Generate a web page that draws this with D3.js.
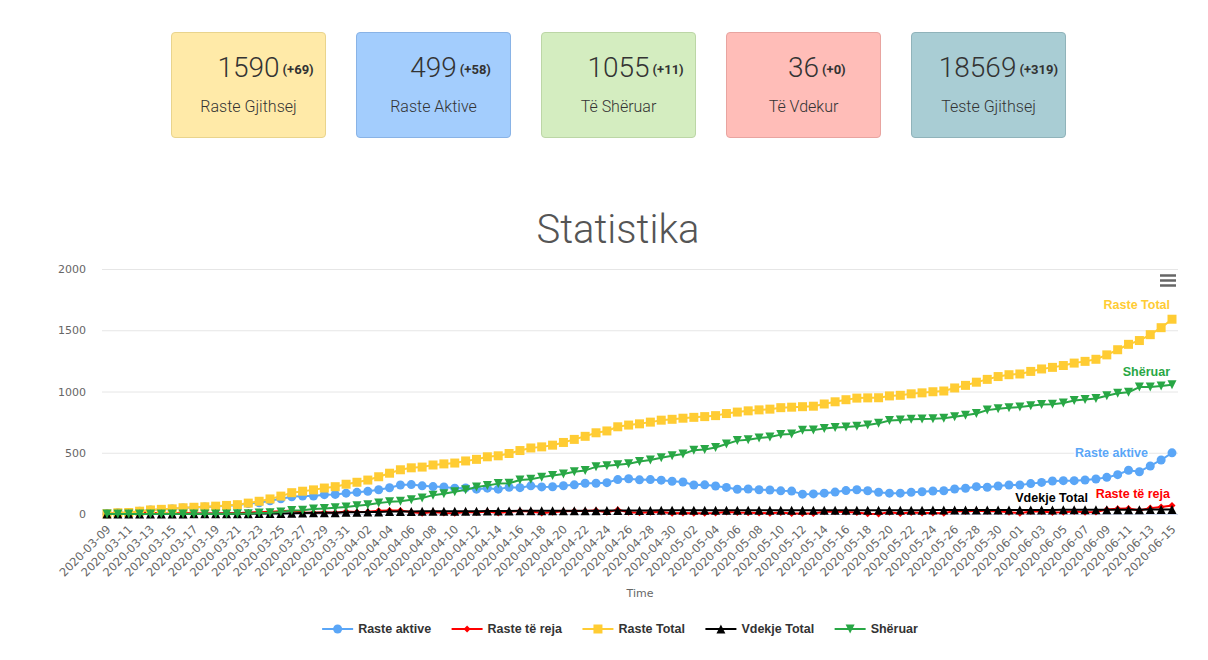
<!DOCTYPE html>
<html>
<head>
<meta charset="utf-8">
<script src="https://cdn.jsdelivr.net/npm/d3@7"></script>
<style>
  body { margin: 0; background: #fff; font-family: Roboto, sans-serif; }
  #wrap { position: relative; width: 1208px; height: 660px; overflow: hidden; }
  .card { position: absolute; top: 32px; width: 153px; height: 104px; border: 1px solid; border-radius: 4px; }
  .num { position: absolute; top: 21px; left: 0; right: 0; text-align: center; font-size: 28px; font-weight: 300; color: #333; line-height: 1; }
  .num .n { position: relative; display: inline-block; }
  .num .d { position: absolute; left: 100%; margin-left: 3px; bottom: 6px; font-size: 13px; font-weight: 700; white-space: nowrap; }
  .lbl { position: absolute; top: 66px; left: 0; right: 0; text-align: center; font-size: 16px; font-weight: 300; color: #333; line-height: 1; }
  svg { position: absolute; left: 0; top: 0; }
</style>
</head>
<body>
<div id="wrap"></div>
<script>
// summary cards
var cardLabels = ['Raste Gjithsej', 'Raste Aktive', 'Të Shëruar', 'Të Vdekur', 'Teste Gjithsej'];
var cardValues = [1590, 499, 1055, 36, 18569];
var cardDeltas = [69, 58, 11, 0, 319];
var cardFills = ['#ffeaa8', '#a3cdfd', '#d4edc0', '#ffbdb8', '#a9cdd4'];
var cardBorders = ['#e9d48d', '#89b3e6', '#bcd6a6', '#e8a4a0', '#90b3ba'];

// chart data, 2020-03-09 .. 2020-06-15
var dates = [
  '2020-03-09','2020-03-10','2020-03-11','2020-03-12','2020-03-13','2020-03-14','2020-03-15','2020-03-16',
  '2020-03-17','2020-03-18','2020-03-19','2020-03-20','2020-03-21','2020-03-22','2020-03-23','2020-03-24',
  '2020-03-25','2020-03-26','2020-03-27','2020-03-28','2020-03-29','2020-03-30','2020-03-31',
  '2020-04-01','2020-04-02','2020-04-03','2020-04-04','2020-04-05','2020-04-06','2020-04-07','2020-04-08',
  '2020-04-09','2020-04-10','2020-04-11','2020-04-12','2020-04-13','2020-04-14','2020-04-15','2020-04-16',
  '2020-04-17','2020-04-18','2020-04-19','2020-04-20','2020-04-21','2020-04-22','2020-04-23','2020-04-24',
  '2020-04-25','2020-04-26','2020-04-27','2020-04-28','2020-04-29','2020-04-30',
  '2020-05-01','2020-05-02','2020-05-03','2020-05-04','2020-05-05','2020-05-06','2020-05-07','2020-05-08',
  '2020-05-09','2020-05-10','2020-05-11','2020-05-12','2020-05-13','2020-05-14','2020-05-15','2020-05-16',
  '2020-05-17','2020-05-18','2020-05-19','2020-05-20','2020-05-21','2020-05-22','2020-05-23','2020-05-24',
  '2020-05-25','2020-05-26','2020-05-27','2020-05-28','2020-05-29','2020-05-30','2020-05-31',
  '2020-06-01','2020-06-02','2020-06-03','2020-06-04','2020-06-05','2020-06-06','2020-06-07','2020-06-08',
  '2020-06-09','2020-06-10','2020-06-11','2020-06-12','2020-06-13','2020-06-14','2020-06-15'
];

var activeCases = [
  2,10,11,22,32,37,41,50,53,57,62,68,72,85,92,108,124,140,147,146,158,160,170,
  177,185,198,214,237,240,230,224,221,211,213,203,211,203,218,215,230,221,222,231,238,251,251,256,281,288,279,281,276,267,
  261,237,238,229,217,202,204,198,196,189,187,162,164,170,179,191,198,190,178,170,170,177,182,188,190,204,210,223,218,229,237,
  237,248,258,269,272,272,278,286,299,321,357,345,392,441,499
];
var newCases = [
  2,8,2,11,10,5,4,9,4,4,5,6,6,13,15,19,23,28,12,11,15,11,20,
  16,18,27,29,28,16,6,17,9,7,17,13,21,8,19,24,21,9,14,22,25,25,29,15,34,14,10,14,16,7,
  9,7,6,8,17,12,10,8,6,12,4,4,4,18,18,17,13,2,1,15,5,12,8,9,6,25,21,26,23,23,15,
  6,21,20,13,15,20,14,17,36,42,44,31,48,57,69
];
var totalCases = [
  2,10,12,23,33,38,42,51,55,59,64,70,76,89,104,123,146,174,186,197,212,223,243,
  259,277,304,333,361,377,383,400,409,416,433,446,467,475,494,518,539,548,562,584,609,634,663,678,712,726,736,750,766,773,
  782,789,795,803,820,832,842,850,856,868,872,876,880,898,916,933,946,948,949,964,969,981,989,998,1004,1029,1050,1076,1099,1122,1137,
  1143,1164,1184,1197,1212,1232,1246,1263,1299,1341,1385,1416,1464,1521,1590
];
var totalDeaths = [
  0,0,1,1,1,1,1,1,2,2,2,2,2,2,4,5,5,6,8,10,10,11,15,
  15,16,17,20,20,21,22,22,23,23,23,23,24,24,25,26,26,26,26,26,26,27,27,28,28,28,28,28,30,31,
  31,31,31,31,31,31,31,31,31,31,31,31,31,31,31,31,31,31,31,31,31,31,31,32,32,32,33,33,33,33,33,
  33,33,33,33,34,34,34,34,34,34,34,35,36,36,36
];
var recovered = [
  0,0,0,0,0,0,0,0,0,0,0,0,2,2,8,10,17,28,31,41,44,52,58,
  67,76,89,99,104,116,131,154,165,182,197,220,232,248,251,277,283,301,314,327,345,356,385,394,403,410,429,441,460,475,
  490,521,526,543,572,599,607,621,629,648,654,683,685,697,706,711,717,727,740,763,768,773,776,778,782,793,807,820,848,860,867,
  873,883,893,895,906,926,934,943,966,986,994,1036,1036,1044,1055
];

var yTicks = [0, 500, 1000, 1500, 2000];
var xTickDates = dates.filter(function(d, i) { return i % 2 === 0; });

var series = [
  { name: 'Raste aktive',  data: activeCases, color: '#5aa6f7', symbol: 'circle',   r: 4.5, label: [-24, 4] },
  { name: 'Raste të reja', data: newCases,    color: '#ff0000', symbol: 'diamond',  r: 3.5, label: [-2, -8] },
  { name: 'Raste Total',   data: totalCases,  color: '#ffcc33', symbol: 'square',   r: 4.5, label: [-2, -10] },
  { name: 'Vdekje Total',  data: totalDeaths, color: '#000000', symbol: 'triangle', r: 4.5, label: [-84, -8] },
  { name: 'Shëruar',       data: recovered,   color: '#28a745', symbol: 'triangle-down', r: 4.5, label: [-2, -9] }
];

var labelFont = '"Liberation Sans", Arial, sans-serif';
var axisFont = '"DejaVu Sans", sans-serif';

// ---- cards
var wrap = d3.select('#wrap');
cardLabels.forEach(function(lbl, i) {
  var left = 171 + i * 185;
  var c = wrap.append('div').attr('class', 'card')
    .style('left', left + 'px')
    .style('background', cardFills[i])
    .style('border-color', cardBorders[i]);
  var n = c.append('div').attr('class', 'num').append('span').attr('class', 'n').text(cardValues[i]);
  var d = n.append('span').attr('class', 'd').text('(+' + cardDeltas[i] + ')');
  // keep the change figure inside the card
  var over = d.node().getBoundingClientRect().right - (left + 155 - 8);
  if (over > 0) n.style('left', (-over) + 'px');
  c.append('div').attr('class', 'lbl').text(lbl);
});

// ---- chart
var svg = wrap.append('svg').attr('width', 1208).attr('height', 660);
var plotLeft = 102, plotRight = 1178;

var x = d3.scalePoint().domain(dates).range([107, 1172]);
var y = d3.scaleLinear().domain([0, 2000]).range([514, 269]);

svg.append('text')
  .attr('x', 618).attr('y', 243)
  .attr('text-anchor', 'middle')
  .style('font-family', 'Roboto, sans-serif')
  .style('font-weight', 300)
  .style('font-size', '40px')
  .style('fill', '#555')
  .text('Statistika');

// y axis + grid
var yAxis = svg.append('g')
  .attr('transform', 'translate(' + plotLeft + ',0)')
  .call(d3.axisLeft(y).tickValues(yTicks).tickFormat(d3.format('d'))
    .tickSize(-(plotRight - plotLeft)).tickPadding(16));
yAxis.select('.domain').remove();
yAxis.selectAll('line').attr('stroke', '#e6e6e6');
yAxis.selectAll('text')
  .style('font-family', axisFont)
  .style('font-size', '11px')
  .style('fill', '#666');

// x axis
svg.append('line')
  .attr('x1', plotLeft).attr('x2', plotRight)
  .attr('y1', 514.5).attr('y2', 514.5)
  .attr('stroke', '#ccd6eb');

var xAxis = svg.append('g')
  .attr('transform', 'translate(0,514)')
  .call(d3.axisBottom(x).tickValues(xTickDates).tickSize(0));
xAxis.select('.domain').remove();
xAxis.selectAll('text')
  .attr('x', 0).attr('y', 0).attr('dy', 0)
  .attr('text-anchor', 'end')
  .attr('transform', 'translate(4,16) rotate(-45)')
  .style('font-family', axisFont)
  .style('font-size', '11.5px')
  .style('fill', '#666');

svg.append('text')
  .attr('x', 640).attr('y', 597)
  .attr('text-anchor', 'middle')
  .style('font-family', axisFont)
  .style('font-size', '11px')
  .style('fill', '#666')
  .text('Time');

function markerPath(type, r) {
  switch (type) {
    case 'circle':
      return d3.symbol(d3.symbolCircle, Math.PI * r * r)();
    case 'square':
      return 'M' + (-r) + ',' + (-r) + 'H' + r + 'V' + r + 'H' + (-r) + 'Z';
    case 'triangle':
      return 'M0,' + (-r) + 'L' + r + ',' + r + 'L' + (-r) + ',' + r + 'Z';
    case 'triangle-down':
      return 'M' + (-r) + ',' + (-r) + 'L' + r + ',' + (-r) + 'L0,' + r + 'Z';
    case 'diamond':
      return 'M0,' + (-r) + 'L' + r + ',0L0,' + r + 'L' + (-r) + ',0Z';
  }
}

var line = d3.line()
  .x(function(d, i) { return x(dates[i]); })
  .y(function(d) { return y(d); });

series.forEach(function(s) {
  var g = svg.append('g');
  g.append('path')
    .attr('d', line(s.data))
    .attr('fill', 'none')
    .attr('stroke', s.color)
    .attr('stroke-width', 2)
    .attr('stroke-linejoin', 'round');
  var mp = markerPath(s.symbol, s.r);
  g.selectAll('path.m').data(s.data).enter().append('path')
    .attr('class', 'm')
    .attr('d', mp)
    .attr('fill', s.color)
    .attr('transform', function(d, i) { return 'translate(' + x(dates[i]) + ',' + y(d) + ')'; });
});

// end-of-line labels
series.forEach(function(s) {
  var last = s.data.length - 1;
  svg.append('text')
    .attr('x', x(dates[last]) + s.label[0])
    .attr('y', y(s.data[last]) + s.label[1])
    .attr('text-anchor', 'end')
    .style('font-family', labelFont)
    .style('font-weight', 'bold')
    .style('font-size', '12.5px')
    .style('fill', s.color)
    .style('stroke', '#fff')
    .style('stroke-width', 3)
    .style('stroke-linejoin', 'round')
    .style('paint-order', 'stroke')
    .text(s.name);
});

// export menu icon
[275.5, 280.5, 285.5].forEach(function(yy) {
  svg.append('line')
    .attr('x1', 1160).attr('x2', 1176)
    .attr('y1', yy).attr('y2', yy)
    .attr('stroke', '#666').attr('stroke-width', 2.5);
});

// legend
var legend = svg.append('g').attr('transform', 'translate(0,629)');
var items = legend.selectAll('g').data(series).enter().append('g');
items.append('text')
  .attr('x', 36).attr('dy', '0.35em')
  .style('font-family', labelFont)
  .style('font-weight', 'bold')
  .style('font-size', '12.5px')
  .style('fill', '#333')
  .text(function(d) { return d.name; });
items.append('line')
  .attr('x1', 0).attr('x2', 31)
  .attr('stroke', function(d) { return d.color; })
  .attr('stroke-width', 2);
items.append('path')
  .attr('d', function(d) { return markerPath(d.symbol, d.r); })
  .attr('transform', 'translate(15.5,0)')
  .attr('fill', function(d) { return d.color; });

var widths = [];
items.each(function() { widths.push(36 + d3.select(this).select('text').node().getComputedTextLength()); });
var total = d3.sum(widths) + 20.5 * (widths.length - 1);
var cx = 620 - total / 2;
items.attr('transform', function(d, i) {
  var pos = cx;
  cx += widths[i] + 20.5;
  return 'translate(' + pos + ',0)';
});
</script>
</body>
</html>
